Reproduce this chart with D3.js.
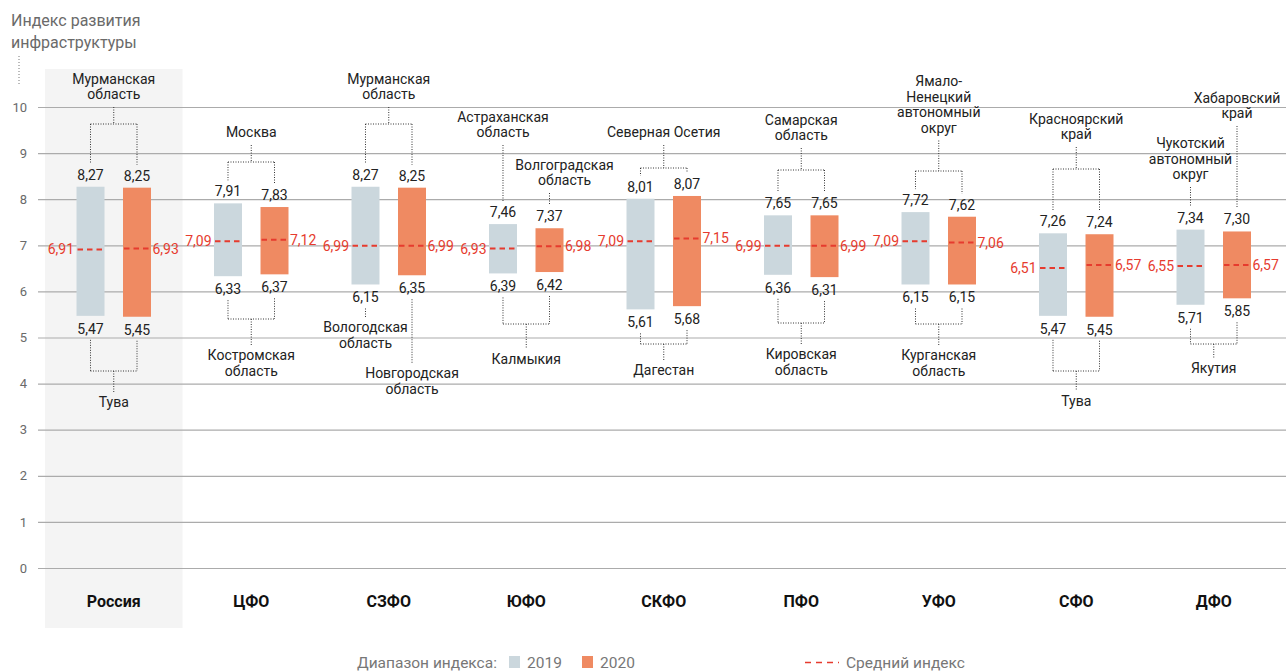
<!DOCTYPE html>
<html>
<head>
<meta charset="utf-8">
<script src="https://cdn.jsdelivr.net/npm/d3@7"></script>
<style>
  body { margin: 0; background: #fff; }
  svg { display: block; font-family: Roboto, "Noto Sans", sans-serif; }
</style>
</head>
<body>
<svg id="chart" width="1286" height="671"></svg>
<script>
// Federal districts and the spread of the infrastructure index across their regions
const districts = ["Россия", "ЦФО", "СЗФО", "ЮФО", "СКФО", "ПФО", "УФО", "СФО", "ДФО"];
const years = ["2019", "2020"];

const min2019  = [5.47, 6.33, 6.15, 6.39, 5.61, 6.36, 6.15, 5.47, 5.71];
const max2019  = [8.27, 7.91, 8.27, 7.46, 8.01, 7.65, 7.72, 7.26, 7.34];
const mean2019 = [6.91, 7.09, 6.99, 6.93, 7.09, 6.99, 7.09, 6.51, 6.55];

const min2020  = [5.45, 6.37, 6.35, 6.42, 5.68, 6.31, 6.15, 5.45, 5.85];
const max2020  = [8.25, 7.83, 8.25, 7.37, 8.07, 7.65, 7.62, 7.24, 7.30];
const mean2020 = [6.93, 7.12, 6.99, 6.98, 7.15, 6.99, 7.06, 6.57, 6.57];

// Regions holding the highest / lowest value in each district ("\n" = line break)
const leader2019 = ["Мурманская\nобласть", "Москва", "Мурманская\nобласть", "Астраханская\nобласть",
  "Северная Осетия", "Самарская\nобласть", "Ямало-\nНенецкий\nавтономный\nокруг",
  "Красноярский\nкрай", "Чукотский\nавтономный\nокруг"];
const leader2020 = ["Мурманская\nобласть", "Москва", "Мурманская\nобласть", "Волгоградская\nобласть",
  "Северная Осетия", "Самарская\nобласть", "Ямало-\nНенецкий\nавтономный\nокруг",
  "Красноярский\nкрай", "Хабаровский\nкрай"];
const outsider2019 = ["Тува", "Костромская\nобласть", "Вологодская\nобласть", "Калмыкия",
  "Дагестан", "Кировская\nобласть", "Курганская\nобласть", "Тува", "Якутия"];
const outsider2020 = ["Тува", "Костромская\nобласть", "Новгородская\nобласть", "Калмыкия",
  "Дагестан", "Кировская\nобласть", "Курганская\nобласть", "Тува", "Якутия"];

const yTicks = [0, 1, 2, 3, 4, 5, 6, 7, 8, 9, 10];
const yTitle = ["Индекс развития", "инфраструктуры"];
const legendTitle = "Диапазон индекса:";
const legendMean = "Средний индекс";

// Placement of the region call-outs (pixel baselines of the text and bracket rows)
const noteLayout = [
  { top: { text: 99,  bracket: 124 }, bottom: { text: 407, bracket: 371 } },
  { top: { text: 137, bracket: 162 }, bottom: { text: 360, bracket: 319 } },
  { top: { text: 99,  bracket: 124 }, bottom: { text: [332, 378], dx: [0, 0] } },
  { top: { text: [137, 185], dx: [0, 15] }, bottom: { text: 364, bracket: 324 } },
  { top: { text: 137, bracket: 168 }, bottom: { text: 375, bracket: 344 } },
  { top: { text: 140, bracket: 170 }, bottom: { text: 359, bracket: 323 } },
  { top: { text: 132.5, bracket: 171 }, bottom: { text: 360, bracket: 324 } },
  { top: { text: 139, bracket: 169 }, bottom: { text: 406, bracket: 371 } },
  { top: { text: [179, 118], dx: [0, 0] }, bottom: { text: 373, bracket: 344 } }
];

const colors = { "2019": "#cbd7dd", "2020": "#ef8a62" };
const meanColor = "#e63b2e";
const ink = "#222";
const lineH = 15.5;

const svg = d3.select("#chart");
const W = 1286;

const ruFmt = d3.formatLocale({ decimal: ",", thousands: " ", grouping: [3], currency: ["", " ₽"] }).format(".2f");

const x = d3.scaleBand().domain(districts).range([45, 45 + 9 * 137.5]).padding(0);
const xSub = d3.scaleBand().domain(years)
  .range([x.bandwidth() / 2 - 37.25, x.bandwidth() / 2 + 37.25]).paddingInner(0.398).paddingOuter(0);
const y = d3.scaleLinear().domain([0, 10]).range([568, 107]);

const rows = districts.map((d, i) => ({
  district: d, i,
  "2019": { min: min2019[i], max: max2019[i], mean: mean2019[i], top: leader2019[i], bottom: outsider2019[i] },
  "2020": { min: min2020[i], max: max2020[i], mean: mean2020[i], top: leader2020[i], bottom: outsider2020[i] }
}));

// Highlight band behind the national total
svg.append("rect")
  .attr("x", x("Россия")).attr("y", 69)
  .attr("width", x.bandwidth()).attr("height", 628 - 69)
  .attr("fill", "#f4f4f4");

// Y axis with full-width gridlines
const yAxis = svg.append("g")
  .attr("transform", "translate(38,0)")
  .call(d3.axisLeft(y).tickValues(yTicks).tickSize(-(W - 38)).tickPadding(11).tickFormat(d3.format("d")));
yAxis.select(".domain").remove();
yAxis.selectAll(".tick line").attr("stroke", "#ababab").attr("stroke-width", 1.2);
yAxis.selectAll(".tick text").attr("fill", "#6a6a6a").attr("font-size", 13)
  .attr("font-family", "Roboto, sans-serif");

// Axis title
svg.append("text")
  .attr("x", 11).attr("fill", "#6a6a6a").attr("font-size", 16)
  .selectAll("tspan").data(yTitle).join("tspan")
  .attr("x", 11).attr("y", (d, k) => 26 + k * 22).text(d => d);
svg.append("line")
  .attr("x1", 19).attr("x2", 19).attr("y1", 56).attr("y2", 86)
  .attr("stroke", "#777").attr("stroke-dasharray", "1,2");

// District labels
svg.append("g").selectAll("text").data(districts).join("text")
  .attr("x", d => x(d) + x.bandwidth() / 2).attr("y", 607)
  .attr("text-anchor", "middle").attr("font-weight", 700).attr("font-size", 16).attr("fill", "#111")
  .text(d => d);

// Range bars
const groups = svg.append("g").selectAll("g").data(rows).join("g")
  .attr("transform", d => `translate(${x(d.district)},0)`);

years.forEach(yr => {
  groups.append("rect")
    .attr("x", xSub(yr)).attr("width", xSub.bandwidth())
    .attr("y", d => y(d[yr].max)).attr("height", d => y(d[yr].min) - y(d[yr].max))
    .attr("fill", colors[yr]);

  // mean line
  groups.append("line")
    .attr("x1", xSub(yr) + 1).attr("x2", xSub(yr) + xSub.bandwidth())
    .attr("y1", d => y(d[yr].mean)).attr("y2", d => y(d[yr].mean))
    .attr("stroke", meanColor).attr("stroke-width", 2).attr("stroke-dasharray", "5.5,4");

  groups.append("text")
    .attr("x", yr === "2019" ? xSub(yr) - 2.5 : xSub(yr) + xSub.bandwidth() + 1.5)
    .attr("y", d => y(d[yr].mean) + 5)
    .attr("text-anchor", yr === "2019" ? "end" : "start")
    .attr("font-size", 14).attr("fill", meanColor)
    .text(d => ruFmt(d[yr].mean));

  // max / min value labels
  groups.append("text")
    .attr("x", xSub(yr) + xSub.bandwidth() / 2).attr("y", d => y(d[yr].max) - 7)
    .attr("text-anchor", "middle").attr("font-size", 14).attr("fill", ink)
    .text(d => ruFmt(d[yr].max));
  groups.append("text")
    .attr("x", xSub(yr) + xSub.bandwidth() / 2).attr("y", d => y(d[yr].min) + 18)
    .attr("text-anchor", "middle").attr("font-size", 14).attr("fill", ink)
    .text(d => ruFmt(d[yr].min));
});

// Region call-outs with dotted brackets
const notes = svg.append("g");
function dotted(x1, y1, x2, y2) {
  notes.append("line").attr("x1", x1).attr("y1", y1).attr("x2", x2).attr("y2", y2)
    .attr("stroke", "#333").attr("stroke-width", 1).attr("stroke-dasharray", "1,1.5");
}
function label(cx, baseline, str, above) {
  const lines = str.split("\n");
  const first = above ? baseline - (lines.length - 1) * lineH : baseline;
  const t = notes.append("text").attr("text-anchor", "middle").attr("font-size", 14).attr("fill", ink);
  t.selectAll("tspan").data(lines).join("tspan")
    .attr("x", cx).attr("y", (d, k) => first + k * lineH).text(d => d);
}

rows.forEach((r, i) => {
  const L = noteLayout[i];
  const cx = x(r.district) + x.bandwidth() / 2;
  const bx = yr => x(r.district) + xSub(yr) + xSub.bandwidth() / 2;
  const topLbl = yr => y(r[yr].max) - 7;
  const botLbl = yr => y(r[yr].min) + 18;

  // highest region(s)
  if (r["2019"].top === r["2020"].top) {
    const t = L.top;
    label(cx, t.text, r["2019"].top, true);
    dotted(cx, t.text + 8, cx, t.bracket);
    dotted(bx("2019"), t.bracket, bx("2020"), t.bracket);
    years.forEach(yr => dotted(bx(yr), t.bracket, bx(yr), topLbl(yr) - 16));
  } else {
    years.forEach((yr, k) => {
      const ty = L.top.text[k];
      label(bx(yr) + L.top.dx[k], ty, r[yr].top, true);
      dotted(bx(yr), ty + 8, bx(yr), topLbl(yr) - 16);
    });
  }

  // lowest region(s)
  if (r["2019"].bottom === r["2020"].bottom) {
    const b = L.bottom;
    label(cx, b.text, r["2019"].bottom, false);
    dotted(cx, b.bracket, cx, b.text - 15);
    dotted(bx("2019"), b.bracket, bx("2020"), b.bracket);
    years.forEach(yr => dotted(bx(yr), botLbl(yr) + 6, bx(yr), b.bracket));
  } else {
    years.forEach((yr, k) => {
      const ty = L.bottom.text[k];
      label(bx(yr) + L.bottom.dx[k], ty, r[yr].bottom, false);
      dotted(bx(yr), botLbl(yr) + 6, bx(yr), ty - 15);
    });
  }
});

// Legend
const lg = svg.append("g").attr("font-size", 15.5).attr("fill", "#777");
lg.append("text").attr("x", 357).attr("y", 668).text(legendTitle);
const legendX = { "2019": 509, "2020": 582 };
years.forEach(yr => {
  lg.append("rect").attr("x", legendX[yr]).attr("y", 656).attr("width", 11).attr("height", 12).attr("fill", colors[yr]);
  lg.append("text").attr("x", legendX[yr] + 18).attr("y", 668).text(yr);
});
lg.append("line").attr("x1", 805).attr("x2", 839).attr("y1", 662.5).attr("y2", 662.5)
  .attr("stroke", meanColor).attr("stroke-width", 1.5).attr("stroke-dasharray", "6,5");
lg.append("text").attr("x", 846).attr("y", 668).text(legendMean);
</script>
</body>
</html>
